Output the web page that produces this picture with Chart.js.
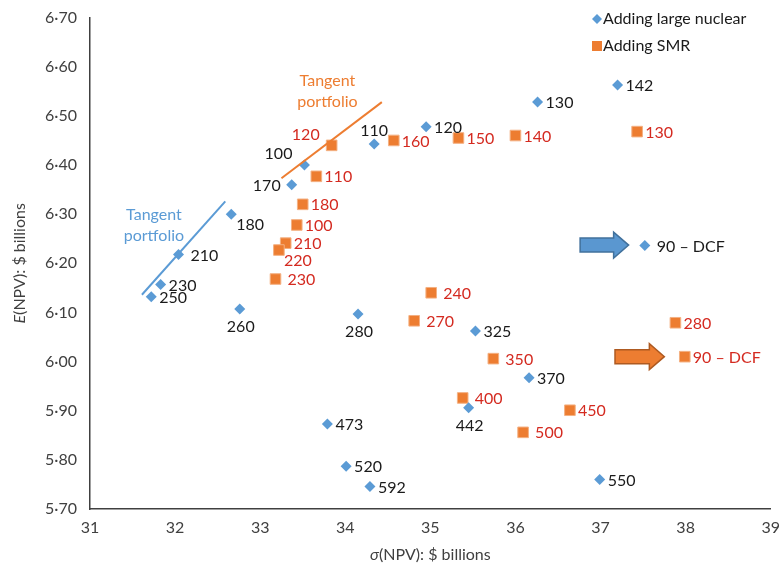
<!DOCTYPE html>
<html>
<head>
<meta charset="utf-8">
<script src="https://cdn.jsdelivr.net/npm/chart.js@4"></script>
<style>
    html, body { margin: 0; padding: 0; background: #fff; }
    #wrap { width: 784px; height: 569px; }
</style>
</head>
<body>
<div id="wrap"><canvas id="chart" width="784" height="569"></canvas></div>
<script>
// data: sigma(NPV) vs E(NPV), $ billions
const nuclearLabels = ["142", "130", "120", "110", "100", "170", "180", "210", "230", "250", "260", "280", "325", "370", "442", "473", "520", "592", "550", "90 \u2013 DCF"];
const nuclearSigma = [37.20, 36.26, 34.95, 34.34, 33.52, 33.37, 32.66, 32.04, 31.83, 31.72, 32.76, 34.15, 35.53, 36.16, 35.45, 33.79, 34.01, 34.29, 36.99, 37.52];
const nuclearMean = [6.563, 6.528, 6.478, 6.443, 6.400, 6.360, 6.300, 6.218, 6.157, 6.132, 6.107, 6.097, 6.062, 5.967, 5.906, 5.873, 5.787, 5.746, 5.760, 6.236];

const smrLabels = ["120", "160", "150", "140", "130", "110", "180", "100", "210", "220", "230", "240", "270", "350", "400", "450", "500", "280", "90 \u2013 DCF"];
const smrSigma = [33.84, 34.57, 35.33, 36.00, 37.43, 33.66, 33.50, 33.43, 33.30, 33.22, 33.18, 35.01, 34.81, 35.74, 35.38, 36.64, 36.09, 37.88, 37.99];
const smrMean = [6.440, 6.450, 6.455, 6.460, 6.468, 6.377, 6.320, 6.278, 6.241, 6.227, 6.168, 6.140, 6.083, 6.006, 5.926, 5.901, 5.856, 6.079, 6.010];

// tangent portfolio lines (start / end)
const nuclearTangentX = [31.61, 32.59];
const nuclearTangentY = [6.136, 6.326];
const smrTangentX = [33.25, 34.43];
const smrTangentY = [6.373, 6.528];

// arrows pointing at the DCF points (tail x, head x, y)
const nuclearArrow = [36.76, 37.33, 6.237];
const smrArrow = [37.17, 37.75, 6.010];

const xTicks = [31, 32, 33, 34, 35, 36, 37, 38, 39];

// where each label goes relative to its point
const nuclearPlace = ["r", "r", "r", "a", "al", "l", "br", "r2", "r", "r", "b", "b", "r", "r", "b", "r", "r", "r", "r", "r2"];
const smrPlace = ["al", "r", "r", "r", "r", "r", "r", "r", "r", "br", "r2", "r2", "r2", "r2", "r2", "r", "r2", "r", "r"];

const BLUE = "#5b9bd5";
const ORANGE = "#ed7d31";
const FONT = "Lato, 'Noto Sans', sans-serif";

function toPoints(xs, ys) {
    return xs.map((x, i) => ({ x: x, y: ys[i] }));
}

// draw the number next to every marker
const pointLabels = {
    id: "pointLabels",
    afterDatasetsDraw(chart) {
        const ctx = chart.ctx;
        const sets = [
            { meta: chart.getDatasetMeta(0), labels: nuclearLabels, place: nuclearPlace, color: "#1a1a1a" },
            { meta: chart.getDatasetMeta(1), labels: smrLabels, place: smrPlace, color: "#d42a20" }
        ];
        ctx.save();
        ctx.font = "16px " + FONT;
        sets.forEach(s => {
            ctx.fillStyle = s.color;
            s.meta.data.forEach((pt, i) => {
                let dx = 8, dy = 1, align = "left";
                const p = s.place[i];
                if (p === "r2") { dx = 12; }
                else if (p === "l") { dx = -11; align = "right"; }
                else if (p === "a") { dx = 0; dy = -13; align = "center"; }
                else if (p === "b") { dx = 1; dy = 18; align = "center"; }
                else if (p === "al") { dx = -12; dy = -11; align = "right"; }
                else if (p === "br") { dx = 5; dy = 11; }
                ctx.textAlign = align;
                ctx.textBaseline = "middle";
                ctx.fillText(s.labels[i], pt.x + dx, pt.y + dy);
            });
        });
        ctx.restore();
    }
};

// tangent lines, their captions, the block arrows, legend and axis titles
const extras = {
    id: "extras",
    afterDatasetsDraw(chart) {
        const ctx = chart.ctx;
        const xs = chart.scales.x;
        const ys = chart.scales.y;
        const area = chart.chartArea;

        ctx.save();
        ctx.lineWidth = 2;
        [[nuclearTangentX, nuclearTangentY, BLUE], [smrTangentX, smrTangentY, ORANGE]].forEach(t => {
            ctx.strokeStyle = t[2];
            ctx.beginPath();
            ctx.moveTo(xs.getPixelForValue(t[0][0]), ys.getPixelForValue(t[1][0]));
            ctx.lineTo(xs.getPixelForValue(t[0][1]), ys.getPixelForValue(t[1][1]));
            ctx.stroke();
        });

        // captions sit above-left of the line tops
        ctx.font = "16px " + FONT;
        ctx.textAlign = "center";
        ctx.textBaseline = "middle";
        ctx.fillStyle = BLUE;
        let cx = xs.getPixelForValue(nuclearTangentX[0]) + 12;
        let cy = ys.getPixelForValue(nuclearTangentY[1]) + 13;
        ctx.fillText("Tangent", cx, cy);
        ctx.fillText("portfolio", cx, cy + 21);
        ctx.fillStyle = ORANGE;
        cx = xs.getPixelForValue(smrTangentX[0]) + 46;
        cy = ys.getPixelForValue(smrTangentY[1]) - 21;
        ctx.fillText("Tangent", cx, cy);
        ctx.fillText("portfolio", cx, cy + 21);

        // block arrows
        [[nuclearArrow, "#5a97d0", "#41719c"], [smrArrow, "#ed7d31", "#ae5a21"]].forEach(a => {
            const x0 = xs.getPixelForValue(a[0][0]);
            const x1 = xs.getPixelForValue(a[0][1]);
            const y = ys.getPixelForValue(a[0][2]);
            const head = 15, body = 7, half = 13;
            ctx.beginPath();
            ctx.moveTo(x0, y - body);
            ctx.lineTo(x1 - head, y - body);
            ctx.lineTo(x1 - head, y - half);
            ctx.lineTo(x1, y);
            ctx.lineTo(x1 - head, y + half);
            ctx.lineTo(x1 - head, y + body);
            ctx.lineTo(x0, y + body);
            ctx.closePath();
            ctx.fillStyle = a[1];
            ctx.fill();
            ctx.lineWidth = 1.5;
            ctx.strokeStyle = a[2];
            ctx.stroke();
        });

        // legend inside the plot, top right
        ctx.font = "16px " + FONT;
        ctx.textAlign = "left";
        const lx = 597, ly = 19;
        chart.data.datasets.forEach((ds, i) => {
            const y = ly + i * 27;
            ctx.fillStyle = ds.backgroundColor;
            if (i === 0) {
                ctx.beginPath();
                ctx.moveTo(lx, y - 5);
                ctx.lineTo(lx + 5, y);
                ctx.lineTo(lx, y + 5);
                ctx.lineTo(lx - 5, y);
                ctx.closePath();
                ctx.fill();
            } else {
                ctx.fillRect(lx - 5, y - 5, 10, 10);
            }
            ctx.fillStyle = "#1a1a1a";
            ctx.fillText(ds.label, lx + 6, y);
        });

        // axis titles with the italic symbols
        ctx.fillStyle = "#404040";
        ctx.font = "16px " + FONT;
        const t1 = "(NPV): $ billions";
        ctx.font = "italic 16px " + FONT;
        const w0 = ctx.measureText("\u03c3").width;
        ctx.font = "16px " + FONT;
        const w1 = ctx.measureText(t1).width;
        let sx = (area.left + area.right) / 2 - (w0 + w1) / 2;
        const sy = 555;
        ctx.font = "italic 16px " + FONT;
        ctx.fillText("\u03c3", sx, sy);
        ctx.font = "16px " + FONT;
        ctx.fillText(t1, sx + w0, sy);

        ctx.translate(20, (area.top + area.bottom) / 2);
        ctx.rotate(-Math.PI / 2);
        ctx.font = "italic 16px " + FONT;
        const e0 = ctx.measureText("E").width;
        ctx.font = "16px " + FONT;
        const e1 = ctx.measureText(t1).width;
        sx = -(e0 + e1) / 2;
        ctx.font = "italic 16px " + FONT;
        ctx.fillText("E", sx, 0);
        ctx.font = "16px " + FONT;
        ctx.fillText(t1, sx + e0, 0);
        ctx.restore();
    }
};

new Chart(document.getElementById("chart"), {
    type: "scatter",
    data: {
        datasets: [
            {
                label: "Adding large nuclear",
                data: toPoints(nuclearSigma, nuclearMean),
                pointStyle: "rectRot",
                pointRadius: 5.5,
                backgroundColor: BLUE,
                borderColor: BLUE,
                borderWidth: 0
            },
            {
                label: "Adding SMR",
                data: toPoints(smrSigma, smrMean),
                pointStyle: "rect",
                pointRadius: 7.5,
                backgroundColor: ORANGE,
                borderColor: "#f4b183",
                borderWidth: 1
            }
        ]
    },
    options: {
        responsive: false,
        animation: false,
        layout: { padding: { top: 10, right: 9, left: 0, bottom: 0 } },
        plugins: {
            legend: { display: false },
            tooltip: { enabled: false }
        },
        scales: {
            x: {
                type: "linear",
                min: 31,
                max: 39,
                afterBuildTicks: (scale) => { scale.ticks = xTicks.map(v => ({ value: v })); },
                afterFit: (scale) => { scale.height = 60; },
                grid: { display: false, drawTicks: true, tickLength: 5, color: "#bfbfbf" },
                border: { display: true, color: "#404040", width: 1.5 },
                ticks: { color: "#404040", font: { size: 16, family: FONT }, padding: 4 }
            },
            y: {
                min: 5.7,
                max: 6.7,
                afterFit: (scale) => { scale.width = 90; },
                grid: { display: false, drawTicks: true, tickLength: 5, color: "#bfbfbf" },
                border: { display: true, color: "#404040", width: 1.5 },
                ticks: {
                    stepSize: 0.1,
                    color: "#404040",
                    font: { size: 16, family: FONT },
                    padding: 8,
                    callback: (v) => v.toFixed(2).replace(".", "\u00b7")
                }
            }
        }
    },
    plugins: [pointLabels, extras]
});
</script>
</body>
</html>
